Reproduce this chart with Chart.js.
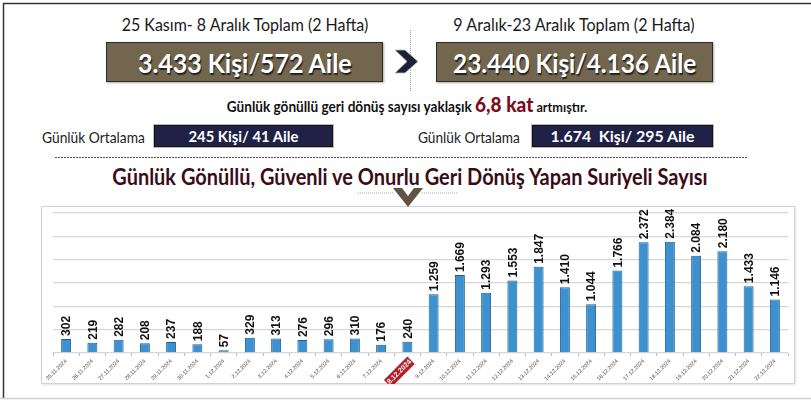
<!DOCTYPE html>
<html>
<head>
<meta charset="utf-8">
<script src="https://cdn.jsdelivr.net/npm/chart.js@4.4.1/dist/chart.umd.min.js"></script>
<style>
  html, body { margin: 0; padding: 0; background: #fff; }
  body { width: 811px; height: 403px; position: relative; overflow: hidden; font-family: Lato, "Open Sans", sans-serif; }
  .abs { position: absolute; white-space: nowrap; line-height: 1; }
  .fit { transform-origin: center; }
  .box { position: absolute; display: flex; align-items: center; justify-content: center; box-sizing: border-box; }
  .brown { background: #72664f; border: 1px solid #2f2a22; box-shadow: 1px 1px 2px #aaa; }
  .navy { background: #1f2146; border: 1px solid #111; box-shadow: 0 0 0 1px #bbb; }
  .brown span { color: #fff; font-weight: 700; font-size: 27px; text-shadow: 1px 2px 1px #222; white-space: nowrap; line-height: 1; }
  .navy span { color: #fff; font-weight: 700; font-size: 16px; white-space: nowrap; line-height: 1; }
  #panel { position: absolute; left: 41px; top: 206px; width: 754px; height: 178px; box-sizing: border-box; border: 1px solid #d2d2d2; box-shadow: 1px 1px 2px #e4e4e4; }
  #chartWrap { position: absolute; left: 42px; top: 207px; width: 753px; height: 177px; }
</style>
</head>
<body>
<svg class="abs" style="left:0;top:0;" width="811" height="403">
  <line x1="3" y1="3.5" x2="811" y2="3.5" stroke="#333" stroke-width="1.5"/>
  <line x1="3.5" y1="3" x2="3.5" y2="398" stroke="#333" stroke-width="1.5"/>
  <line x1="0" y1="398.5" x2="811" y2="398.5" stroke="#cfcfcf" stroke-width="1.5"/>
  <line x1="410.5" y1="30" x2="410.5" y2="92" stroke="#999" stroke-width="1" stroke-dasharray="1,1"/>
  <line x1="55" y1="157.5" x2="748" y2="157.5" stroke="#555" stroke-width="1" stroke-dasharray="2,1"/>
</svg>

<div class="abs fit" data-cx="245" data-w="247" style="top:15px;font-size:18px;color:#1a1a1a;">25 Kasım- 8 Aralık Toplam (2 Hafta)</div>
<div class="abs fit" data-cx="574" data-w="241" style="top:15px;font-size:18px;color:#1a1a1a;">9 Aralık-23 Aralık Toplam (2 Hafta)</div>

<div class="box brown" style="left:106px;top:42px;width:277px;height:40px;"><span class="fit" data-w="214">3.433 Kişi/572 Aile</span></div>
<div class="box brown" style="left:436px;top:42px;width:277px;height:40px;"><span class="fit" data-w="243">23.440 Kişi/4.136 Aile</span></div>

<svg class="abs" style="left:0;top:0;" width="811" height="403">
  <polygon points="395,50 405,50 418,61.5 405,73 395,73 407,61.5" fill="#1b2236" stroke="#bbb" stroke-width="0.8"/>
</svg>

<div class="abs fit" data-cx="407" data-w="360" style="top:94px;line-height:20px;color:#111;font-weight:700;">
  <span style="font-size:15px;">Günlük gönüllü geri dönüş sayısı yaklaşık </span><span style="font-size:21px;font-weight:900;color:#7b0d1e;">6,8 kat</span><span style="font-size:14px;"> artmıştır.</span>
</div>

<div class="abs fitl" data-w="103" style="left:42px;top:130px;font-size:15px;color:#222;">Günlük Ortalama</div>
<div class="box navy" style="left:154px;top:125px;width:179px;height:22px;"><span class="fit" data-w="110">245 Kişi/ 41 Aile</span></div>
<div class="abs fitl" data-w="102" style="left:418px;top:130px;font-size:15px;color:#222;">Günlük Ortalama</div>
<div class="box navy" style="left:532px;top:125px;width:181px;height:22px;"><span class="fit" data-w="144">1.674&nbsp; Kişi/ 295 Aile</span></div>

<div class="abs fit" data-cx="410" data-w="595" style="top:166px;font-size:22px;font-weight:700;color:#3a0c18;">Günlük Gönüllü, Güvenli ve Onurlu Geri Dönüş Yapan Suriyeli Sayısı</div>

<div id="panel"></div>
<div id="chartWrap"><canvas id="chart"></canvas></div>

<svg class="abs" style="left:0;top:0;" width="811" height="403">
  <line x1="358" y1="193" x2="394" y2="193" stroke="#aaa" stroke-width="1" stroke-dasharray="1,1"/>
  <line x1="422" y1="193" x2="457" y2="193" stroke="#aaa" stroke-width="1" stroke-dasharray="1,1"/>
  <polygon points="393,188 402,188 408,196 414,188 423,188 408,207" fill="#5f5442"/>
</svg>

<script>
const dates = [
  "25.11.2024", "26.11.2024", "27.11.2024", "28.11.2024", "29.11.2024", "30.11.2024", "1.12.2024",
  "2.12.2024", "3.12.2024", "4.12.2024", "5.12.2024", "6.12.2024", "7.12.2024", "8.12.2024",
  "9.12.2024", "10.12.2024", "11.12.2024", "12.12.2024", "13.12.2024", "14.12.2024", "15.12.2024",
  "16.12.2024", "17.12.2024", "18.12.2024", "19.12.2024", "20.12.2024", "21.12.2024", "22.12.2024"
];
const returns = [
  302, 219, 282, 208, 237, 188, 57,
  329, 313, 276, 296, 310, 176, 240,
  1259, 1669, 1293, 1553, 1847, 1410, 1044,
  1766, 2372, 2384, 2084, 2180, 1433, 1146
];
const highlightDate = "8.12.2024";
const yMax = 3000;
const yStep = 500;

function trNumber(v) {
  return String(v).replace(/\B(?=(\d{3})+(?!\d))/g, ".");
}

// fit header texts to the widths
function fitTexts() {
  document.querySelectorAll(".fit, .fitl").forEach(el => {
    const w = parseFloat(el.dataset.w);
    const s = w / el.offsetWidth;
    if (el.dataset.cx) {
      el.style.left = el.dataset.cx + "px";
      el.style.transform = "translateX(-50%) scaleX(" + s + ")";
    } else if (el.classList.contains("fitl")) {
      el.style.transformOrigin = "left center";
      el.style.transform = "scaleX(" + s + ")";
    } else {
      el.style.display = "inline-block";
      el.style.transform = "scaleX(" + s + ")";
    }
  });
}

const barLabels = {
  id: "barLabels",
  afterDatasetsDraw(chart) {
    const ctx = chart.ctx;
    const meta = chart.getDatasetMeta(0);
    ctx.save();
    ctx.font = 'bold 12px "Liberation Sans", Arial, sans-serif';
    ctx.fillStyle = "#111";
    ctx.textAlign = "left";
    ctx.textBaseline = "middle";
    meta.data.forEach((bar, i) => {
      ctx.save();
      ctx.translate(bar.x + 1, bar.y - 3);
      ctx.rotate(-Math.PI / 2);
      ctx.fillText(trNumber(returns[i]), 0, 0);
      ctx.restore();
    });
    ctx.restore();
  }
};

function drawChart() {
  new Chart(document.getElementById("chart"), {
    type: "bar",
    data: {
      labels: dates,
      datasets: [{
        data: returns,
        backgroundColor: "#3d91cf",
        borderColor: "#1f5f93",
        borderWidth: 1,
        barPercentage: 0.38,
        categoryPercentage: 1
      }]
    },
    options: {
      responsive: true,
      maintainAspectRatio: false,
      animation: false,
      layout: { padding: { top: 6, right: 7, left: 0, bottom: 0 } },
      plugins: { legend: { display: false }, tooltip: { enabled: false } },
      scales: {
        x: {
          offset: true,
          afterFit: scale => { scale.height = 31; },
          border: { display: false },
          grid: { display: true, drawOnChartArea: false, offset: true, tickLength: 3, color: "#bdbdbd" },
          ticks: {
            autoSkip: false,
            maxRotation: 45,
            minRotation: 45,
            padding: 2,
            color: ctx => dates[ctx.index] === highlightDate ? "#fff" : "#444",
            font: ctx => dates[ctx.index] === highlightDate
              ? { family: '"Liberation Sans", Arial', size: 7, weight: "bold" }
              : { family: '"Liberation Sans", Arial', size: 5.5 },
            showLabelBackdrop: ctx => dates[ctx.index] === highlightDate,
            backdropColor: "#b3202a",
            backdropPadding: 1
          }
        },
        y: {
          min: 0,
          max: yMax,
          afterFit: scale => { scale.width = 11; },
          border: { display: false },
          grid: { color: "#d6d6d6", lineWidth: 1.3, drawTicks: false },
          ticks: { display: false, stepSize: yStep }
        }
      }
    },
    plugins: [barLabels]
  });
}

document.fonts.ready.then(() => {
  fitTexts();
  drawChart();
});
</script>
</body>
</html>
